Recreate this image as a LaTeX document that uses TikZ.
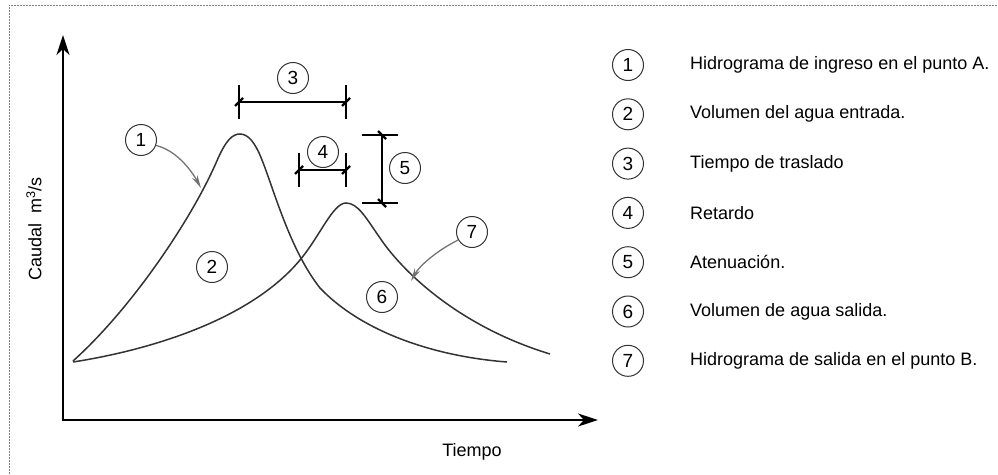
\documentclass[tikz,border=0pt]{standalone}
\usepackage{fontspec}
\setmainfont{Liberation Sans}
\usetikzlibrary{arrows.meta}
\begin{document}
\begin{tikzpicture}[x=1pt,y=-1pt,
 num/.style={circle,draw=black!80,line width=1pt,minimum size=31pt,inner sep=0pt,font=\fontsize{19}{19}\selectfont},
 lbl/.style={anchor=west,font=\fontsize{18}{20}\selectfont,inner sep=0pt},
 curve/.style={line width=1.5pt,black!80},
 dimline/.style={line width=1.4pt,black},
 tickmark/.style={line width=2.4pt,black},
 leader/.style={line width=1.3pt,black!55,-{Stealth[length=13pt,width=6pt]}},
 axis/.style={line width=2pt,{Stealth[length=20pt,width=13pt,inset=6pt]}-{Stealth[length=20pt,width=13pt,inset=6pt]}}
]
\useasboundingbox (0,0) rectangle (998,474);
% frame
\draw[gray,line width=0.8pt,dash pattern=on 2pt off 1pt] (9,474) -- (9,5) -- (998,5);
% axes
\coordinate (O) at (63,420);
\coordinate (Ytip) at (63,35);
\coordinate (Xtip) at (598,420);
\draw[axis] (Ytip) -- (O) -- (Xtip);
\node[font=\fontsize{18}{20}\selectfont] (tiempo) at (472,452) {Tiempo};
\node[rotate=90,font=\fontsize{18}{20}\selectfont] (caudal) at (34,229) {Caudal~~m\textsuperscript{3}/s};
% inflow hydrograph
\draw[curve] (73,361) .. controls (130,310) and (190,222) .. (216,163)
  .. controls (226,139) and (233,134) .. (240,134)
  .. controls (248,134) and (255,142) .. (262,160)
  .. controls (274,190) and (290,250) .. (320,288)
  .. controls (360,330) and (430,356) .. (507,362);
% outflow hydrograph
\draw[curve] (73,362) .. controls (150,350) and (250,320) .. (300,260)
  .. controls (320,236) and (333,203) .. (346,203)
  .. controls (358,203) and (366,218) .. (380,238)
  .. controls (400,268) and (455,325) .. (550,354);
% dimension 3
\coordinate (d3a) at (239,102);
\coordinate (d3b) at (346,102);
\draw[dimline] (d3a) -- (d3b);
\draw[dimline] ([yshift=-17pt]d3a) -- ([yshift=17pt]d3a);
\draw[dimline] ([yshift=-17pt]d3b) -- ([yshift=17pt]d3b);
\draw[tickmark] ([shift={(-4,4)}]d3a) -- ([shift={(4,-4)}]d3a);
\draw[tickmark] ([shift={(-4,4)}]d3b) -- ([shift={(4,-4)}]d3b);
% dimension 4
\coordinate (d4a) at (299,170);
\coordinate (d4b) at (346,170);
\draw[dimline] (d4a) -- (d4b);
\draw[dimline] ([yshift=-17pt]d4a) -- ([yshift=17pt]d4a);
\draw[dimline] ([yshift=-17pt]d4b) -- ([yshift=17pt]d4b);
\draw[tickmark] ([shift={(-4,4)}]d4a) -- ([shift={(4,-4)}]d4a);
\draw[tickmark] ([shift={(-4,4)}]d4b) -- ([shift={(4,-4)}]d4b);
% dimension 5
\coordinate (d5a) at (382,135);
\coordinate (d5b) at (382,203);
\draw[dimline] (d5a) -- (d5b);
\draw[dimline] ([xshift=-20pt]d5a) -- ([xshift=16pt]d5a);
\draw[dimline] ([xshift=-20pt]d5b) -- ([xshift=16pt]d5b);
\draw[tickmark] ([shift={(-4,-4)}]d5a) -- ([shift={(4,4)}]d5a);
\draw[tickmark] ([shift={(-4,-4)}]d5b) -- ([shift={(4,4)}]d5b);
% chart labels
\node[num] (c1) at (141,140) {1};
\node[num] (c2) at (212,267) {2};
\node[num] (c3) at (293,78) {3};
\node[num] (c4) at (323,152) {4};
\node[num] (c5) at (405,168) {5};
\node[num] (c6) at (382,297) {6};
\node[num] (c7) at (472,232) {7};
\coordinate (p1) at (201,188);
\coordinate (p7) at (411,281);
\draw[leader] (c1.-20) .. controls (175,150) and (190,168) .. (p1);
\draw[leader] (c7.-150) .. controls (438,250) and (420,265) .. (p7);
% legend
\foreach \i/\t [count=\k from 0] in {1/Hidrograma de ingreso en el punto A.,2/Volumen del agua entrada.,3/Tiempo de traslado,4/Retardo,5/Atenuación.,6/Volumen de agua salida.,7/Hidrograma de salida en el punto B.}{
  \node[num] (l\i) at (628,65+49.3*\k) {\i};
  \node[lbl] (t\i) at (690,65+49.3*\k) {\t};
}
\end{tikzpicture}
\end{document}
